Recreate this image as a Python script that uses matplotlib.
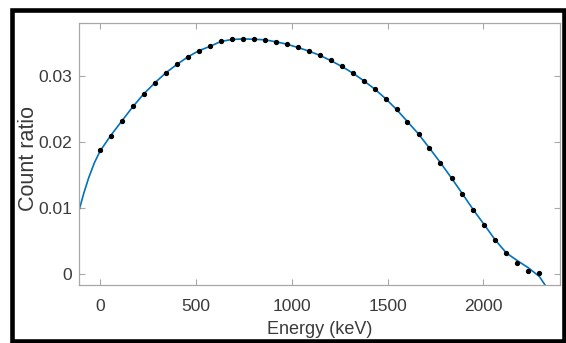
import numpy as np
import matplotlib
matplotlib.use("Agg")
import matplotlib.pyplot as plt
from matplotlib.patches import Rectangle

# measured points (black dots)
energy = [0, 57, 115, 172, 229, 287, 344, 401, 458, 516, 573, 630, 688, 745,
          802, 860, 917, 974, 1031, 1089, 1146, 1203, 1261, 1318, 1375, 1433,
          1490, 1547, 1604, 1662, 1719, 1776, 1834, 1891, 1948, 2006, 2063,
          2120, 2177, 2235, 2292]
ratio = [0.01884, 0.02097, 0.02331, 0.02545, 0.02739, 0.02907, 0.03057, 0.03182,
         0.03296, 0.03391, 0.03455, 0.03540, 0.03560, 0.03570, 0.03564, 0.03555,
         0.03525, 0.03490, 0.03440, 0.03385, 0.03321, 0.03242, 0.03152, 0.03052,
         0.02937, 0.02809, 0.02664, 0.02500, 0.02316, 0.02127, 0.01913, 0.01694,
         0.01460, 0.01221, 0.00978, 0.00749, 0.00519, 0.00325, 0.00167, 0.00052,
         0.00018]

# fitted curve (blue line)
fit_e = [-110, -85, -60, -30, 0, 57, 115, 172, 229, 287, 344, 401, 458, 516,
         573, 630, 688, 745, 802, 860, 917, 974, 1031, 1089, 1146, 1203, 1261,
         1318, 1375, 1433, 1490, 1547, 1604, 1662, 1719, 1776, 1834, 1891, 1948,
         2006, 2063, 2120, 2177, 2235, 2292, 2322, 2340]
fit_y = [0.0097, 0.0123, 0.0146, 0.0169, 0.0187, 0.0211, 0.02331, 0.02545,
         0.02739, 0.02907, 0.03057, 0.03182, 0.03296, 0.03391, 0.03455, 0.03530,
         0.03560, 0.03568, 0.03564, 0.03555, 0.03525, 0.03490, 0.03440, 0.03385,
         0.03321, 0.03242, 0.03152, 0.03052, 0.02937, 0.02809, 0.02664, 0.02500,
         0.02316, 0.02127, 0.01913, 0.01694, 0.01460, 0.01221, 0.00978, 0.00749,
         0.00519, 0.00325, 0.0021, 0.0010, -0.0003, -0.0016, -0.0026]

xticks = [0, 500, 1000, 1500, 2000]
yticks = [0, 0.01, 0.02, 0.03]

plt.rcParams['font.family'] = ['Liberation Sans', 'DejaVu Sans']

fig = plt.figure(figsize=(5.66, 3.43), dpi=100)
fig.patch.set_facecolor('white')

# black frame round the screenshot
fig.patches.append(Rectangle((12 / 566, 2.5 / 343), 552 / 566, 331 / 343,
                             transform=fig.transFigure, fill=False,
                             edgecolor='black', linewidth=3.3, zorder=10))

ax = fig.add_axes([79 / 566, 58 / 343, 481 / 566, 262 / 343])
ax.plot(fit_e, fit_y, color='#0072BD', linewidth=1.2, zorder=2)
ax.plot(energy, ratio, 'o', color='black', markersize=2.8, zorder=3)

ax.set_xlim(-110, 2400)
ax.set_ylim(-0.0016, 0.0381)
ax.set_xticks(xticks)
ax.set_xticklabels([str(t) for t in xticks])
ax.set_yticks(yticks)
ax.set_yticklabels(['0', '0.01', '0.02', '0.03'])

for s in ax.spines.values():
    s.set_color('#a8a8a8')
    s.set_linewidth(0.9)
ax.tick_params(direction='in', length=4, width=0.8, color='#a8a8a8',
               top=True, right=True, labelsize=12.5, labelcolor='#3a3a3a')
ax.tick_params(axis='x', pad=10)
ax.tick_params(axis='y', pad=5)

ax.set_xlabel('Energy (keV)', fontsize=13, color='#3a3a3a')
ax.set_ylabel('Count ratio', fontsize=15.5, color='#3a3a3a')
ax.xaxis.set_label_coords(0.5, -0.138)
ax.yaxis.set_label_coords(-0.084, 0.483)

fig.savefig('out.png', dpi=100)
